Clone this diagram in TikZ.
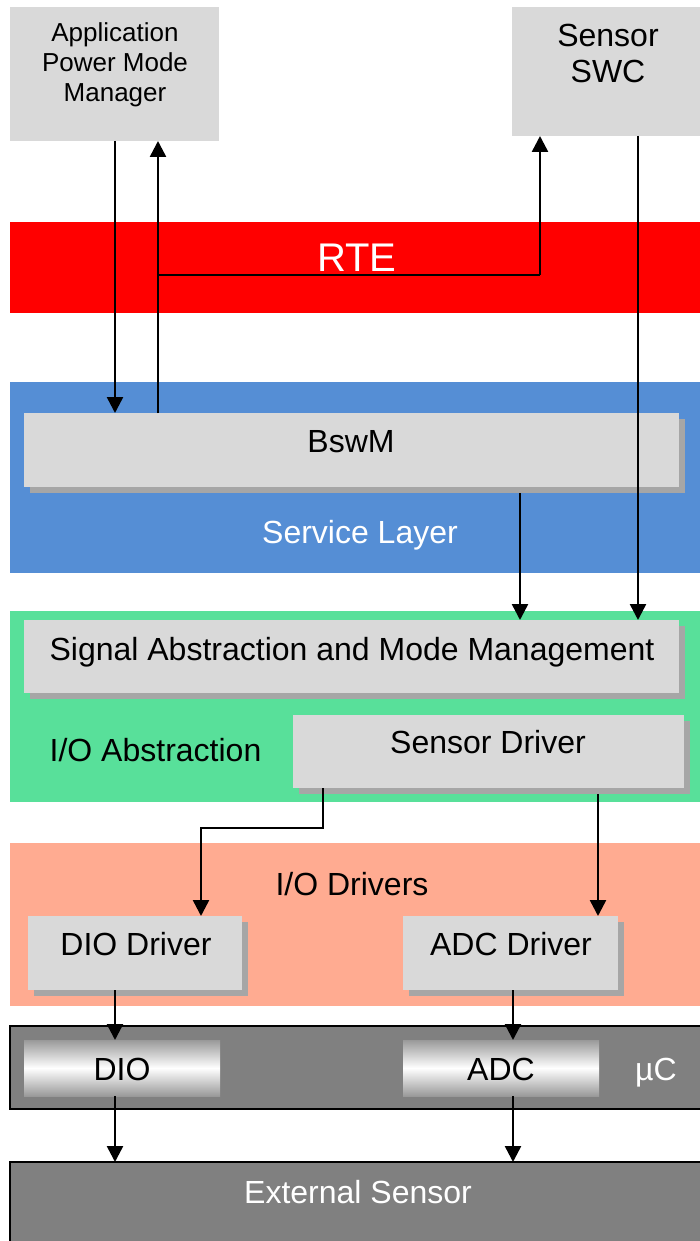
\documentclass[tikz,border=0pt]{standalone}
\usepackage{fontspec}
\setmainfont{Liberation Sans}
\usetikzlibrary{arrows.meta,shadows}
\definecolor{boxgray}{HTML}{D9D9D9}
\definecolor{shadowgray}{HTML}{A6A6A6}
\definecolor{rtered}{HTML}{FF0000}
\definecolor{svcblue}{HTML}{558ED5}
\definecolor{iogreen}{HTML}{58E09A}
\definecolor{drvsalmon}{HTML}{FFAB91}
\definecolor{ucgray}{HTML}{808080}
\begin{document}
\begin{tikzpicture}[x=1pt,y=-1pt,
  blk/.style={rectangle, draw=none, inner sep=0pt, outer sep=0pt, anchor=north west},
  graybox/.style={blk, fill=boxgray},
  shbox/.style={graybox, general shadow={fill=shadowgray, shadow xshift=6pt, shadow yshift=-6pt}},
  band/.style={blk},
  hwband/.style={blk, fill=ucgray, draw=black, line width=2pt},
  hwbox/.style={blk, top color=ucgray!80, bottom color=ucgray!80, middle color=white},
  txt/.style={anchor=base, inner sep=0pt, font=\fontsize{32}{36}\selectfont},
  arr/.style={draw=black, line width=2.5pt, -{Triangle[length=16pt,width=16pt]}},
  ln/.style={draw=black, line width=2.5pt}
]
\useasboundingbox (0,0) rectangle (699,1241);
\fill[white] (0,0) rectangle (699,1241);

% top components
\node[graybox, minimum width=209pt, minimum height=134pt] (app) at (10,7) {};
\node[graybox, minimum width=190pt, minimum height=129pt] (swc) at (512,7) {};
\node[txt, font=\fontsize{26}{30}\selectfont] (t1) at (115,42) {Application};
\node[txt, font=\fontsize{26}{30}\selectfont] (t2) at (115,72) {Power Mode};
\node[txt, font=\fontsize{26}{30}\selectfont] (t3) at (115,102) {Manager};
\node[txt] (t4) at (608,47) {Sensor};
\node[txt] (t5) at (608,83) {SWC};

% RTE
\node[band, fill=rtered, minimum width=692pt, minimum height=91pt] (rte) at (10,222) {};
\node[txt, text=white, font=\fontsize{40}{44}\selectfont] (trte) at (357,272) {RTE};

% Service layer
\node[band, fill=svcblue, minimum width=692pt, minimum height=191pt] (svc) at (10,382) {};
\node[shbox, minimum width=655pt, minimum height=74pt] (bswm) at (24,413) {};
\node[txt] (tbswm) at (351,452) {BswM};
\node[txt, text=white] (tsvc) at (360,543) {Service Layer};

% I/O Abstraction
\node[band, fill=iogreen, minimum width=692pt, minimum height=191pt] (ioa) at (10,611) {};
\node[shbox, minimum width=655pt, minimum height=73pt] (samm) at (24,620) {};
\node[txt] (tsamm) at (352,660) {Signal Abstraction and Mode Management};
\node[txt] (tioa) at (155.5,761) {I/O Abstraction};
\node[shbox, minimum width=391pt, minimum height=73pt] (sd) at (293,715) {};
\node[txt] (tsd) at (488,753) {Sensor Driver};

% I/O Drivers
\node[band, fill=drvsalmon, minimum width=692pt, minimum height=163pt] (iod) at (10,843) {};
\node[txt] (tiod) at (352,895) {I/O Drivers};
\node[shbox, minimum width=214pt, minimum height=74pt] (diodrv) at (28,916) {};
\node[txt] (tdiodrv) at (136,955) {DIO Driver};
\node[shbox, minimum width=215pt, minimum height=74pt] (adcdrv) at (403,916) {};
\node[txt] (tadcdrv) at (511,955) {ADC Driver};

% microcontroller
\node[hwband, minimum width=700pt, minimum height=83pt] (uc) at (10,1026) {};
\node[hwbox, minimum width=196pt, minimum height=56pt] (dio) at (24,1040) {};
\node[txt] (tdio) at (122,1080) {DIO};
\node[hwbox, minimum width=196pt, minimum height=56pt] (adc) at (403,1040) {};
\node[txt] (tadc) at (501,1080) {ADC};
\node[txt, text=white] (tuc) at (656,1080) {µC};

% external sensor
\node[hwband, minimum width=700pt, minimum height=100pt] (ext) at (10,1162) {};
\node[txt, text=white] (text) at (358,1203) {External Sensor};

% connector helper coordinates
\coordinate (j0) at (115,0);
\coordinate (j1) at (158,275);
\coordinate (j2) at (540,275);
\coordinate (j3) at (638,0);
\coordinate (j4) at (520,493);
\coordinate (j5) at (323,828);
\coordinate (j6) at (201,828);
\coordinate (j7) at (598,794);
\coordinate (j8) at (115,0);
\coordinate (j9) at (513,0);

% connectors
\draw[arr] (app.south -| j0) -- (bswm.north -| j0);
\draw[arr] (bswm.north -| j1) -- (app.south -| j1);
\draw[ln] (j1) -- (j2);
\draw[arr] (j2) -- (swc.south -| j2);
\draw[arr] (swc.south -| j3) -- (samm.north -| j3);
\draw[arr] (j4) -- (samm.north -| j4);
\draw[arr] (sd.south -| j5) -- (j5) -- (j6) -- (diodrv.north -| j6);
\draw[arr] (j7) -- (adcdrv.north -| j7);
\draw[arr] (diodrv.south -| j8) -- (dio.north -| j8);
\draw[arr] (adcdrv.south -| j9) -- (adc.north -| j9);
\draw[arr] (dio.south -| j8) -- (ext.north -| j8);
\draw[arr] (adc.south -| j9) -- (ext.north -| j9);
\end{tikzpicture}
\end{document}
